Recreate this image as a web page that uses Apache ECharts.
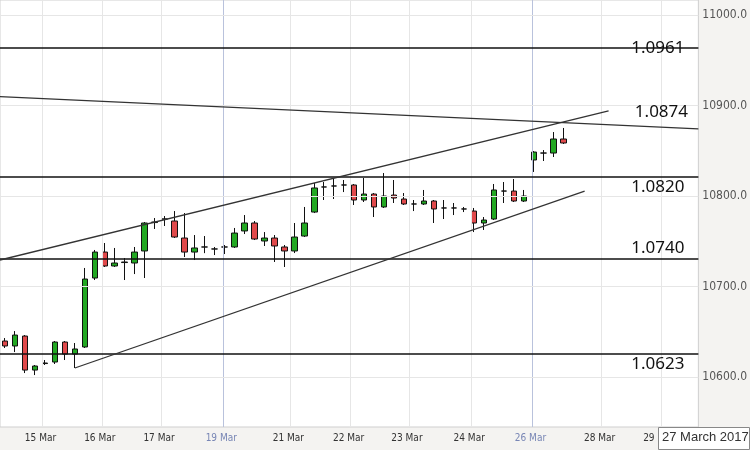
<!DOCTYPE html>
<html><head><meta charset="utf-8">
<script src="https://cdn.jsdelivr.net/npm/echarts@6/dist/echarts.min.js"></script>
<style>html,body{margin:0;padding:0;background:#f4f3f1}#c{width:750px;height:450px}</style>
</head><body><div id="c"></div>
<script>
// candles: [open, close, low, high]
const candles = [
 [10639.8,10634.3,10632.1,10643.1],[10634.3,10646.4,10627.6,10650.8],[10645.3,10607.7,10604.4,10646.4],
 [10607.7,10612.2,10602.2,10613.3],[10614.9,10615.5,10613.3,10618.8],[10616.6,10638.7,10614.4,10639.8],
 [10638.7,10625.4,10618.8,10639.8],[10625.4,10631.0,10610.0,10637.6],[10633.2,10708.3,10632.1,10720.5],
 [10709.4,10738.1,10707.2,10740.4],[10738.1,10722.7,10721.6,10748.1],[10722.7,10726.0,10721.6,10742.6],
 [10726.5,10727.1,10707.2,10731.5],[10726.0,10738.1,10713.8,10743.7],[10739.3,10770.2,10709.4,10771.3],
 [10770.7,10771.3,10763.6,10775.7],[10774.6,10774.6,10766.9,10777.9],[10772.4,10754.7,10753.6,10783.4],
 [10753.6,10738.1,10732.6,10781.2],[10738.1,10742.6,10729.3,10756.9],[10743.7,10743.7,10736.9,10755.8],
 [10741.5,10741.5,10734.8,10743.7],[10743.7,10743.7,10735.9,10745.9],[10743.7,10759.1,10742.6,10764.7],
 [10761.4,10770.2,10758.0,10779.0],[10770.2,10752.5,10751.4,10772.4],[10750.3,10753.6,10744.8,10760.2],
 [10753.6,10744.8,10727.1,10756.9],[10743.7,10739.3,10721.6,10745.9],[10739.3,10754.7,10737.0,10770.2],
 [10755.8,10770.2,10754.7,10787.9],[10782.3,10808.9,10781.2,10814.4],[10810.0,10810.0,10795.6,10815.5],
 [10811.1,10811.1,10796.7,10819.9],[10812.2,10812.2,10804.4,10817.7],[10812.2,10795.6,10790.1,10813.3],
 [10795.6,10802.2,10793.4,10819.9],[10802.2,10787.9,10776.8,10803.3],[10787.9,10800.0,10786.8,10825.4],
 [10801.1,10797.8,10792.3,10817.7],[10796.7,10791.2,10790.1,10803.3],[10791.2,10791.2,10783.4,10795.6],
 [10791.2,10794.5,10790.1,10806.7],[10794.5,10785.7,10770.2,10795.6],[10786.8,10786.8,10774.6,10795.6],
 [10786.8,10786.8,10779.0,10792.3],[10785.7,10785.7,10782.3,10787.9],[10783.4,10770.2,10760.2,10786.8],
 [10770.2,10773.5,10762.5,10776.8],[10774.6,10806.7,10773.5,10813.3],[10805.5,10805.5,10792.3,10815.5],
 [10805.5,10794.5,10793.4,10818.8],[10794.5,10800.0,10793.4,10806.7],[10839.8,10848.6,10826.6,10849.7],
 [10847.5,10847.5,10838.7,10850.8],[10847.5,10863.0,10843.1,10870.7],[10863.0,10858.6,10857.5,10875.2]
];
const slotCount = 70;
const dayLabels = ['15 Mar','16 Mar','17 Mar','19 Mar','21 Mar','22 Mar','23 Mar','24 Mar','26 Mar','28 Mar','29'];
const dayPositions = [3.76,9.70,15.64,21.88,28.6,34.65,40.49,46.73,52.87,59.8,65.74];
const sundayLabels = ['19 Mar','26 Mar'];
const yTicks = [10600,10700,10800,10900,11000];
const levels = [10963.6,10821.0,10730.4,10625.4];
const levelLabels = ['1.0961','1.0820','1.0740','1.0623'];
const upperLevelLabel = '1.0874';
const trendLines = [
 [[-0.5,10909.8],[69.5,10874.1]],
 [[-0.5,10729.3],[60.5,10894.0]],
 [[7.0,10610.0],[58.1,10805.5]]
];
const lastPrice = 10856.5;
const dateText = '27 March 2017';

const cats = Array.from({length:slotCount},(_, i)=>i);
const chart = echarts.init(document.getElementById('c'));
const narrow = "'Liberation Sans Narrow','DejaVu Sans Condensed',sans-serif";
const levelLabelPos = ['insideEnd','insideEndBottom','insideEndTop','insideEndBottom'];

chart.setOption({
 animation:false,
 backgroundColor:'#f4f3f1',
 grid:{left:-4,right:47,top:0,bottom:23,show:true,backgroundColor:'#fff',borderColor:'#cfcfcf',borderWidth:1},
 xAxis:[
  {type:'category',data:cats,boundaryGap:true,show:false},
  {type:'value',min:-0.5,max:slotCount-0.5,show:false}
 ],
 yAxis:{type:'value',position:'right',min:10544.8,max:11016.6,
  axisLine:{show:false},axisTick:{show:false},splitLine:{show:false},
  axisLabel:{customValues:yTicks,formatter:v=>v.toFixed(1),color:'#555',fontSize:12,fontFamily:narrow,margin:4}},
 graphic:[
  {type:'rect',left:658,top:427,z:10,shape:{x:0,y:0,width:91,height:22},style:{fill:'#fff',stroke:'#888',lineWidth:1}},
  {type:'text',left:662,top:431,z:11,style:{text:dateText,font:"13px 'Liberation Sans Narrow',sans-serif",fill:'#333'}}
 ],
 series:[
  {type:'line',xAxisIndex:1,data:[],z:1,silent:true,
   markLine:{symbol:'none',silent:true,animation:false,
    data:[
     ...dayPositions.map((p,i)=>({xAxis:p,
       lineStyle:{color:sundayLabels.includes(dayLabels[i])?'#b9c2dc':'#e6e6e6',width:1,type:'solid'},
       label:{show:true,position:'start',formatter:dayLabels[i],fontSize:10,fontFamily:narrow,distance:6,
        offset:i===dayLabels.length-1?[-12,0]:[-2,0],
        color:sundayLabels.includes(dayLabels[i])?'#7886b5':'#333'}})),
     ...yTicks.map(v=>({yAxis:v,lineStyle:{color:'#e6e6e6',width:1,type:'solid'},label:{show:false}}))
    ]}},
  {type:'candlestick',data:candles,barWidth:6,z:3,
   itemStyle:{color:'#22a822',color0:'#e0494b',borderColor:'#111',borderColor0:'#111',borderWidth:1}},
  {type:'line',xAxisIndex:1,data:[],z:4,silent:true,
   markLine:{symbol:'none',silent:true,animation:false,
    lineStyle:{color:'#111',width:1.5,type:'solid'},
    label:{fontSize:17,color:'#111',fontFamily:"'Noto Sans',sans-serif"},
    data:[
     ...levels.map((v,i)=>({yAxis:v,label:{show:true,position:levelLabelPos[i],formatter:levelLabels[i],distance:[14,2]}})),
     ...trendLines.map((t,i)=>[
       {coord:t[0],lineStyle:{color:'#333',width:1.3},label:{show:false}},
       {coord:t[1]}]),
     {yAxis:lastPrice,lineStyle:{opacity:0},
      label:{show:true,position:'end',formatter:String(lastPrice),distance:2,fontSize:13,fontFamily:narrow,color:'#222',
       backgroundColor:'#fff',borderColor:'#222',borderWidth:1,padding:[4,2,3,2]}}
    ]}},
  {type:'line',xAxisIndex:1,data:[],z:4,silent:true,
   markPoint:{symbol:'rect',symbolSize:0,silent:true,
    data:[{coord:[65.8,10893],label:{show:true,formatter:upperLevelLabel,fontSize:17,color:'#111',fontFamily:"'Noto Sans',sans-serif"}}]}}
 ]
});
</script></body></html>
